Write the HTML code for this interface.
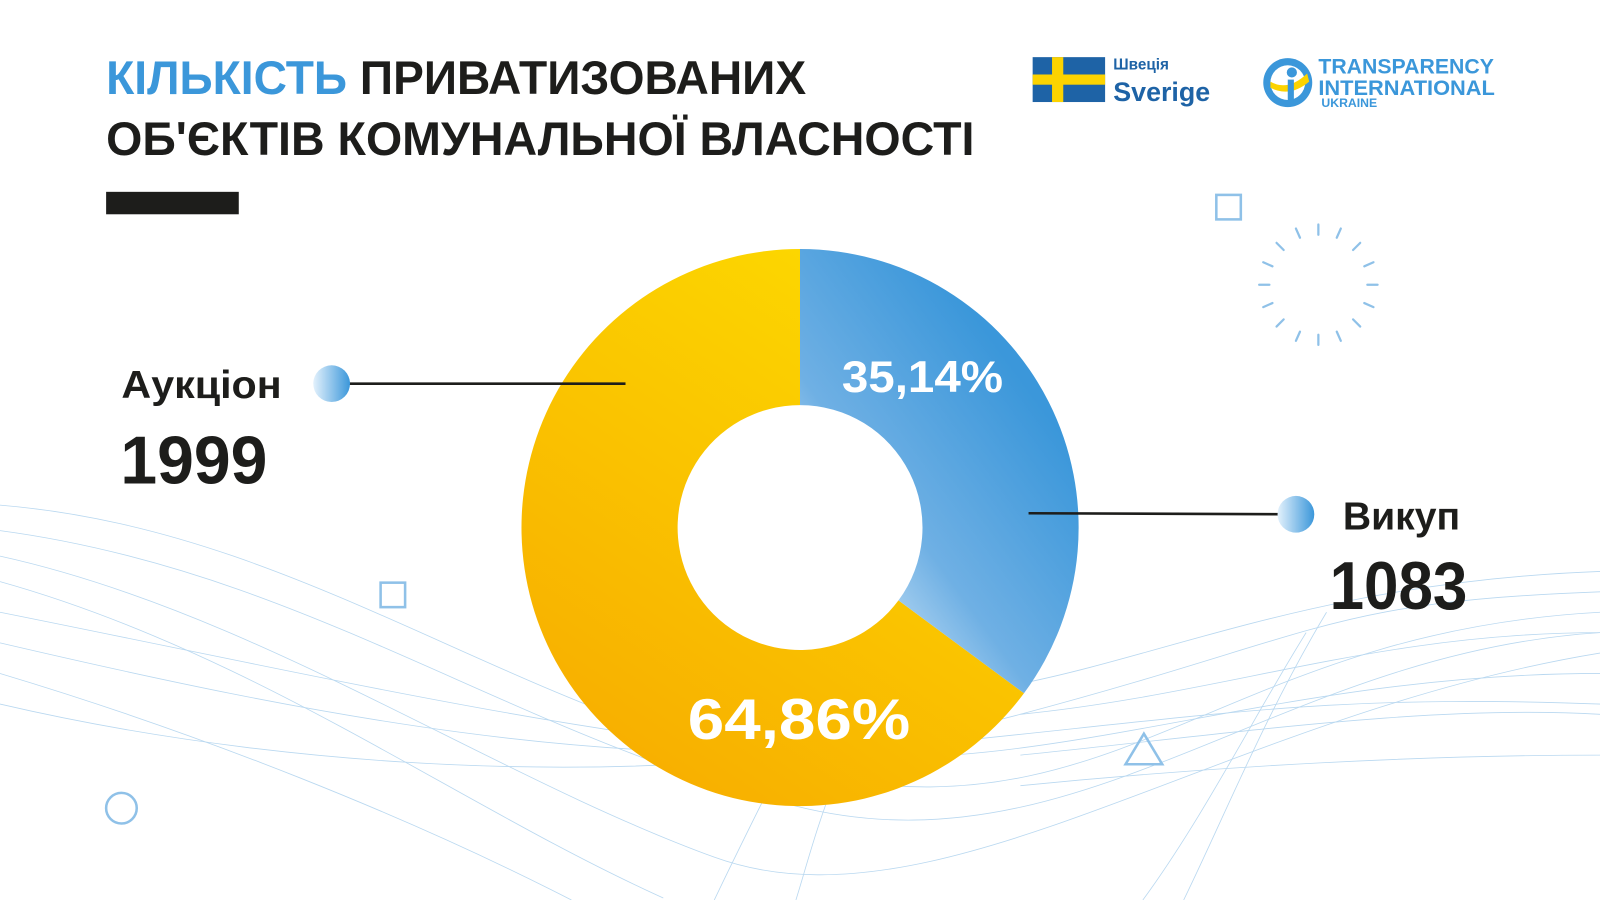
<!DOCTYPE html>
<html><head><meta charset="utf-8"><style>
html,body{margin:0;padding:0;background:#fff;width:1600px;height:900px;overflow:hidden}
svg{display:block}
text{font-family:"Liberation Sans","DejaVu Sans",sans-serif;font-weight:bold}
</style></head><body>
<svg width="1600" height="900" viewBox="0 0 1568 882" preserveAspectRatio="none" xmlns="http://www.w3.org/2000/svg">
<defs>
<linearGradient id="yg" x1="0" y1="1" x2="0.6" y2="0"><stop offset="0" stop-color="#f7a800"/><stop offset="1" stop-color="#fcd700"/></linearGradient>
<linearGradient id="bg" x1="0.2" y1="1" x2="0.8" y2="0.3"><stop offset="0" stop-color="#e6f3fc"/><stop offset="0.45" stop-color="#6fb0e4"/><stop offset="1" stop-color="#3b97da"/></linearGradient>
<linearGradient id="dg" x1="0" y1="0" x2="1" y2="0"><stop offset="0" stop-color="#e3f1fc"/><stop offset="1" stop-color="#3b97da"/></linearGradient>
</defs>
<g fill="none" stroke="#b9d8f0" stroke-width="0.8">
<path d="M0 495 C300 520 500 700 800 760 S1200 620 1568 600"/>
<path d="M0 520 C300 560 500 720 780 790 S1250 640 1568 620"/>
<path d="M0 545 C250 600 480 760 700 840 S1200 700 1568 640"/>
<path d="M0 570 C250 640 450 790 650 880"/>
<path d="M0 600 C300 660 560 720 800 740 S1250 660 1568 660"/>
<path d="M0 630 C300 700 600 760 900 730 S1300 680 1568 690"/>
<path d="M0 660 C200 720 400 800 560 882"/>
<path d="M0 690 C300 760 700 780 1000 700 S1300 590 1568 580"/>
<path d="M1000 670 C1150 640 1300 570 1568 560"/>
<path d="M1000 700 C1200 680 1350 620 1568 620"/>
<path d="M1000 740 C1200 720 1400 690 1568 700"/>
<path d="M1000 770 C1200 750 1400 740 1568 740"/>
<path d="M1280 620 C1230 700 1180 800 1120 882"/>
<path d="M1300 600 C1240 700 1200 800 1160 882"/>
<path d="M760 760 C740 800 720 840 700 882"/>
<path d="M820 760 C800 810 790 850 780 882"/>
</g>
<path d="M784 244 A273 273 0 1 0 1003.5 679.4 L880.5 588.4 A120 120 0 1 1 784 397 Z" fill="url(#yg)"/>
<path d="M784 244 A273 273 0 0 1 1003.5 679.4 L880.5 588.4 A120 120 0 0 0 784 397 Z" fill="url(#bg)"/>
<text x="904" y="384" font-size="44" fill="#fff" text-anchor="middle" textLength="158" lengthAdjust="spacingAndGlyphs">35,14%</text>
<text x="783" y="724" font-size="56" fill="#fff" text-anchor="middle" textLength="218" lengthAdjust="spacingAndGlyphs">64,86%</text>
<text x="104" y="92" font-size="46" fill="#3b97da" textLength="686" lengthAdjust="spacingAndGlyphs">КІЛЬКІСТЬ <tspan fill="#1d1d1b">ПРИВАТИЗОВАНИХ</tspan></text>
<text x="104" y="152" font-size="46" fill="#1d1d1b" textLength="851" lengthAdjust="spacingAndGlyphs">ОБ'ЄКТІВ КОМУНАЛЬНОЇ ВЛАСНОСТІ</text>
<rect x="104" y="188" width="130" height="22" fill="#1d1d1b"/>
<line x1="325" y1="376" x2="613" y2="376" stroke="#1d1d1b" stroke-width="2.5"/>
<circle cx="325" cy="376" r="18" fill="url(#dg)"/>
<text x="119" y="390" font-size="38" fill="#1d1d1b" textLength="157" lengthAdjust="spacingAndGlyphs">Аукціон</text>
<text x="118" y="474" font-size="66" fill="#1d1d1b" textLength="144" lengthAdjust="spacingAndGlyphs">1999</text>
<line x1="1008" y1="503" x2="1270" y2="504" stroke="#1d1d1b" stroke-width="2.5"/>
<circle cx="1270" cy="504" r="18" fill="url(#dg)"/>
<text x="1316" y="519" font-size="38" fill="#1d1d1b" textLength="115" lengthAdjust="spacingAndGlyphs">Викуп</text>
<text x="1303" y="597" font-size="66" fill="#1d1d1b" textLength="135" lengthAdjust="spacingAndGlyphs">1083</text>
<rect x="1192" y="191" width="24" height="24" fill="none" stroke="#8fc1e8" stroke-width="2.5"/>
<rect x="373" y="571" width="24" height="24" fill="none" stroke="#8fc1e8" stroke-width="2.5"/>
<circle cx="119" cy="792" r="15" fill="none" stroke="#8fc1e8" stroke-width="2.5"/>
<path d="M1121 719 L1139 749 L1103 749 Z" fill="none" stroke="#8fc1e8" stroke-width="2.5"/>
<g stroke="#8fc1e8" stroke-width="2.2" stroke-linecap="round">
<line x1="1292" y1="220" x2="1292" y2="230"/><line x1="1292" y1="328" x2="1292" y2="338"/>
<line x1="1234" y1="279" x2="1244" y2="279"/><line x1="1340" y1="279" x2="1350" y2="279"/>
<line x1="1251" y1="238" x2="1258" y2="245"/><line x1="1326" y1="313" x2="1333" y2="320"/>
<line x1="1333" y1="238" x2="1326" y2="245"/><line x1="1258" y1="313" x2="1251" y2="320"/>
<line x1="1270" y1="224" x2="1274" y2="233"/><line x1="1310" y1="325" x2="1314" y2="334"/>
<line x1="1314" y1="224" x2="1310" y2="233"/><line x1="1274" y1="325" x2="1270" y2="334"/>
<line x1="1238" y1="257" x2="1247" y2="261"/><line x1="1337" y1="297" x2="1346" y2="301"/>
<line x1="1346" y1="257" x2="1337" y2="261"/><line x1="1247" y1="297" x2="1238" y2="301"/>
</g>
<rect x="1012" y="56" width="71" height="44" fill="#1e63a6"/>
<rect x="1031" y="56" width="11" height="44" fill="#fcd300"/>
<rect x="1012" y="73" width="71" height="10" fill="#fcd300"/>
<text x="1091" y="68" font-size="15" fill="#1e63a6">Швеція</text>
<text x="1091" y="99" font-size="26" fill="#1e63a6" textLength="95" lengthAdjust="spacingAndGlyphs">Sverige</text>
<circle cx="1262" cy="81" r="24" fill="#3b97da"/>
<circle cx="1262" cy="81" r="17" fill="#fff"/>
<path d="M1245 80 Q1262 90 1281 72 L1283 80 Q1264 96 1245 86 Z" fill="#fcd300"/>
<circle cx="1266" cy="71" r="5" fill="#3b97da"/>
<rect x="1262" y="78" width="6" height="26" fill="#3b97da"/>
<text x="1292" y="72" font-size="21" fill="#3b97da" textLength="172" lengthAdjust="spacingAndGlyphs">TRANSPARENCY</text>
<text x="1292" y="93" font-size="21" fill="#3b97da" textLength="173" lengthAdjust="spacingAndGlyphs">INTERNATIONAL</text>
<text x="1295" y="105" font-size="12" fill="#3b97da">UKRAINE</text>
</svg>
</body></html>
